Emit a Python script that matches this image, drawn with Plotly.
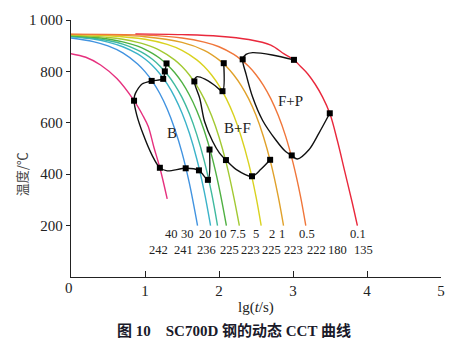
import plotly.graph_objects as go

# ---- cooling curves (lg t, temperature) ----
mag_x = [0, 0.2, 0.4, 0.62, 0.852, 0.977, 1.044, 1.12, 1.201, 1.30]
mag_y = [869, 855, 825, 772, 686, 625, 586, 505, 425, 304]
blue_x = [0, 0.3, 0.5, 0.7, 0.9, 1.0, 1.1, 1.2, 1.3, 1.4, 1.5, 1.6, 1.71]
blue_y = [930, 916, 899, 872, 829, 799, 761, 714, 654, 578, 484, 364, 200]
teal1_x = [0, 0.3, 0.5, 0.7, 0.9, 1.0, 1.1, 1.2, 1.3, 1.4, 1.5, 1.6, 1.7, 1.8, 1.886]
teal1_y = [935, 926, 914, 896, 868, 848, 823, 791, 751, 701, 638, 559, 459, 333, 200]
teal2_x = [0, 0.3, 0.5, 0.7, 0.9, 1.0, 1.1, 1.2, 1.3, 1.4, 1.5, 1.6, 1.7, 1.8, 1.9, 1.98]
teal2_y = [937, 929, 920, 906, 883, 867, 847, 821, 789, 749, 699, 635, 554, 453, 326, 200]
green_x = [0, 0.3, 0.5, 0.7, 0.9, 1.0, 1.1, 1.2, 1.3, 1.4, 1.5, 1.6, 1.7, 1.8, 1.9, 2.0, 2.1]
green_y = [939, 933, 926, 915, 898, 886, 870, 851, 826, 796, 757, 708, 647, 570, 473, 350, 200]
yg_x = [0, 0.5, 0.7, 0.9, 1.0, 1.2, 1.4, 1.5, 1.6, 1.7, 1.8, 1.9, 2.0, 2.1, 2.2, 2.275]
yg_y = [941, 932, 925, 913, 905, 882, 845, 819, 786, 745, 693, 627, 545, 441, 311, 200]
yel_x = [0, 0.5, 1.0, 1.3, 1.5, 1.7, 1.8, 1.9, 2.0, 2.1, 2.2, 2.3, 2.4, 2.5, 2.57]
yel_y = [943, 939, 925, 905, 882, 845, 819, 786, 745, 693, 628, 546, 443, 313, 200]
gold_x = [0, 1.0, 1.5, 1.8, 2.0, 2.1, 2.2, 2.3, 2.4, 2.5, 2.6, 2.7, 2.8, 2.872]
gold_y = [944, 935, 913, 882, 845, 819, 786, 745, 694, 629, 547, 444, 314, 200]
ora_x = [0, 1.0, 1.5, 1.8, 2.0, 2.2, 2.3, 2.4, 2.5, 2.6, 2.7, 2.8, 2.9, 3.0, 3.1, 3.173]
ora_y = [945, 941, 930, 914, 896, 866, 845, 820, 787, 746, 694, 629, 548, 445, 316, 200]
red_x = [0.87, 1.5, 2.0, 2.4, 2.7, 2.88, 3.0, 3.1, 3.2, 3.3, 3.4, 3.497, 3.6, 3.7, 3.8, 3.87]
red_y = [946, 943, 937, 924, 902, 868, 848, 820, 790, 750, 700, 637, 530, 410, 290, 200]

curve_colors = ["#e6307e", "#4193e0", "#3bb3c9", "#3fb99f", "#4fb042",
                "#a2c932", "#d9d21f", "#e0a12a", "#f0763a", "#e9283c"]

# ---- transformation boundary lines ----
l1_x = [1.291, 1.268, 1.246, 1.09, 0.96, 0.89, 0.86, 0.852, 0.888, 0.977, 1.09, 1.201, 1.30, 1.55, 1.729, 1.85, 1.872]
l1_y = [831, 800, 771, 763, 751, 725, 706, 686, 631, 554, 477, 425, 413, 423, 415, 378, 496]
l2_x = [2.064, 2.047, 1.944, 1.81, 1.698, 1.667, 1.74, 1.805, 1.913, 2.007, 2.094, 2.23, 2.446, 2.566, 2.691]
l2_y = [832, 723, 745, 770, 779, 761, 695, 605, 528, 482, 455, 419, 392, 419, 456]
l3_x = [3.013, 2.72, 2.454, 2.365, 2.32, 2.365, 2.454, 2.588, 2.768, 2.90, 2.983, 3.058, 3.215, 3.349, 3.497]
l3_y = [845, 864, 873, 866, 847, 790, 700, 610, 533, 488, 473, 459, 495, 559, 637]

# measured points (black squares)
pts_x = [1.291, 1.268, 1.246, 1.09, 0.852, 1.201, 1.55, 1.729, 1.85, 1.872,
         2.064, 2.047, 1.667, 2.094, 2.446, 2.691, 3.013, 2.32, 2.983, 3.497]
pts_y = [831, 800, 771, 763, 686, 425, 423, 415, 378, 496,
         832, 723, 761, 455, 392, 456, 845, 847, 473, 637]

# ---- labels ----
rate_labels = ["40", "30", "20", "10", "7.5", "5", "2", "1", "0.5", "0.1"]
rate_x = [1.358, 1.577, 1.815, 2.02, 2.262, 2.5, 2.715, 2.857, 3.19, 3.873]
hard_labels = ["242", "241", "236", "225", "223", "225", "223", "222", "180", "135"]
hard_x = [1.188, 1.515, 1.828, 2.141, 2.432, 2.715, 3.004, 3.313, 3.608, 3.953]
rate_row_y = 166
hard_row_y = 105
phase_labels = ["B", "B+F", "F+P"]
phase_x = [1.36, 2.25, 2.96]
phase_y = [562, 578, 686]

x_ticks = [0, 1, 2, 3, 4, 5]
x_tick_text = ["", "1", "2", "3", "4", "5"]
y_ticks = [200, 400, 600, 800, 1000]
y_tick_text = ["200", "400", "600", "800", "1 000"]

SERIF = "Liberation Serif, Times New Roman, serif"

fig = go.Figure()
curves = [(mag_x, mag_y), (blue_x, blue_y), (teal1_x, teal1_y), (teal2_x, teal2_y),
          (green_x, green_y), (yg_x, yg_y), (yel_x, yel_y), (gold_x, gold_y),
          (ora_x, ora_y), (red_x, red_y)]
for (cx, cy), col in zip(curves, curve_colors):
    fig.add_trace(go.Scatter(x=cx, y=cy, mode="lines",
                             line=dict(color=col, width=1.4, shape="spline", smoothing=1.0),
                             hoverinfo="skip", showlegend=False))
for lx, ly in [(l1_x, l1_y), (l2_x, l2_y), (l3_x, l3_y)]:
    fig.add_trace(go.Scatter(x=lx, y=ly, mode="lines",
                             line=dict(color="#111111", width=1.4, shape="spline", smoothing=0.9),
                             hoverinfo="skip", showlegend=False))
fig.add_trace(go.Scatter(x=pts_x, y=pts_y, mode="markers",
                         marker=dict(symbol="square", size=6, color="#000000"),
                         showlegend=False))

for t, x in zip(rate_labels, rate_x):
    fig.add_annotation(x=x, y=rate_row_y, text=t, showarrow=False,
                       font=dict(family=SERIF, size=12.5, color="#222222"))
for t, x in zip(hard_labels, hard_x):
    fig.add_annotation(x=x, y=hard_row_y, text=t, showarrow=False,
                       font=dict(family=SERIF, size=12.5, color="#222222"))
for t, x, y in zip(phase_labels, phase_x, phase_y):
    fig.add_annotation(x=x, y=y, text=t, showarrow=False,
                       font=dict(family=SERIF, size=15, color="#222222"))

# origin label "0" sits slightly left of the axis corner
fig.add_annotation(xref="paper", yref="paper", x=-0.114 / 5, y=0, yanchor="top", yshift=-1,
                   text="0", showarrow=False,
                   font=dict(family=SERIF, size=15, color="#222222"))

# axis titles & caption
fig.add_annotation(xref="paper", yref="paper", x=0.5, y=-0.12, yanchor="middle",
                   text="lg(<i>t</i>/s)", showarrow=False,
                   font=dict(family=SERIF, size=15, color="#222222"))
fig.add_annotation(xref="paper", yref="paper", x=-0.135, y=0.40, xanchor="center", yanchor="middle",
                   text="温度/℃", textangle=-90, showarrow=False,
                   font=dict(family="Noto Sans CJK SC", size=13, color="#444444"))
fig.add_annotation(xref="paper", yref="paper", x=(235 - 70.5) / 372.8, y=-0.21, yanchor="middle",
                   text="<b>图 10\u2003SC700D 钢的动态 CCT 曲线</b>", showarrow=False,
                   font=dict(family="Liberation Serif, Noto Sans CJK SC", size=15, color="#1a1a2a"))

fig.update_layout(
    width=457, height=349,
    margin=dict(l=70.5, r=13.7, t=17.3, b=71.7),
    paper_bgcolor="white", plot_bgcolor="white",
    xaxis=dict(range=[0, 5], tickvals=x_ticks, ticktext=x_tick_text, ticks="inside", ticklen=6,
               tickwidth=1.2, tickcolor="#222222", showline=True, linecolor="#222222",
               linewidth=1.3, showgrid=False, zeroline=False, mirror=False,
               tickfont=dict(family=SERIF, size=15, color="#222222")),
    yaxis=dict(range=[0, 1000], tickvals=y_ticks, ticktext=y_tick_text, ticks="outside",
               ticklen=4, tickwidth=1.2, tickcolor="#222222", showline=True,
               linecolor="#222222", linewidth=1.3, showgrid=False, zeroline=False,
               tickfont=dict(family=SERIF, size=15, color="#222222")),
)
fig.write_html("out.html")
